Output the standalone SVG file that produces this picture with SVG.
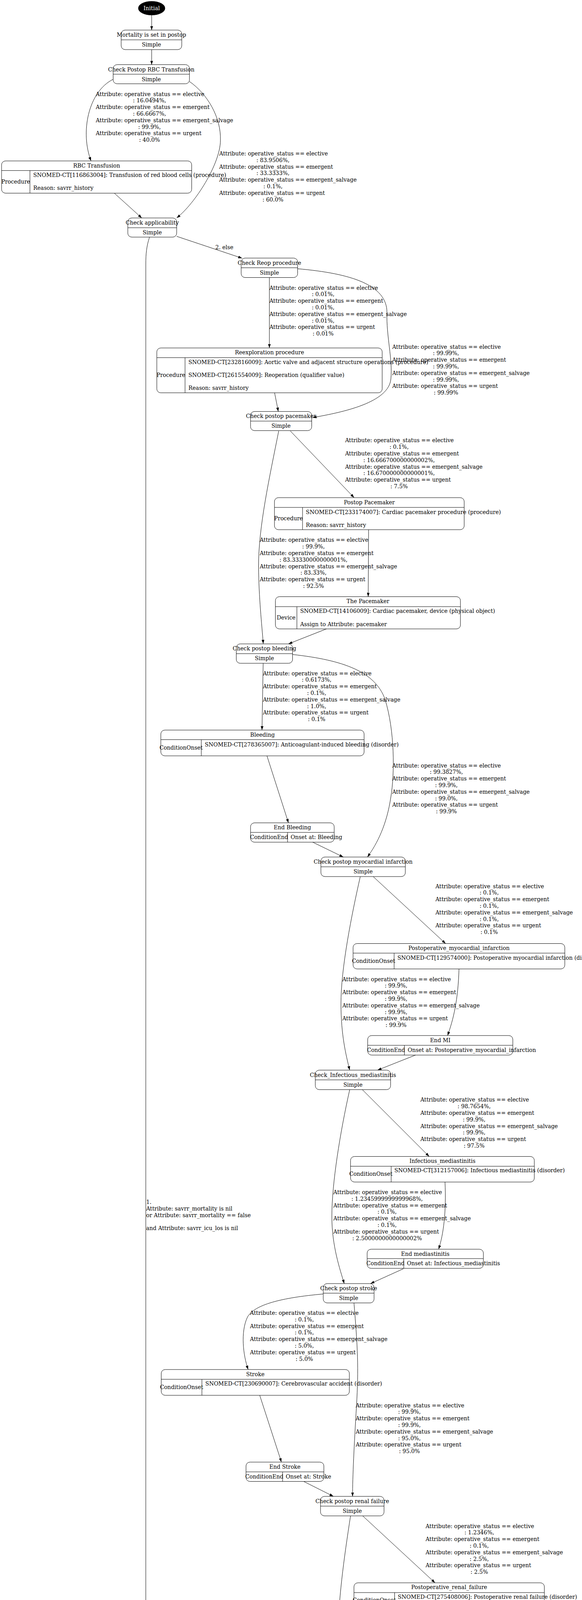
<svg xmlns="http://www.w3.org/2000/svg" width="1489" height="5507" viewBox="0 0 1489 5507">
<style>
text{font-family:"DejaVu Serif","Liberation Serif",serif;font-size:14px;fill:#000}
.c{text-anchor:middle}
.w{fill:#fff}
.b{fill:none;stroke:#000;stroke-width:1}
.e{fill:none;stroke:#000;stroke-width:1;marker-end:url(#ah)}
</style>
<defs>
<marker id="ah" viewBox="0 0 10 7" refX="10" refY="3.5" markerWidth="10" markerHeight="7" orient="auto" markerUnits="userSpaceOnUse"><path d="M0,0 L10,3.5 L0,7 z" fill="#000"/></marker>
</defs>
<rect x="0" y="0" width="1489" height="5507" fill="#fff"/>

<g id="edges">
<path class="e" d="M388,39 L388,77"/>
<path class="e" d="M388,127 L388,165.5"/>
<path class="e" d="M289.5,203 C225,235 205,340 233,412"/>
<path class="e" d="M484.7,208.6 C530,240 566,300 564,360 C563,420 500,520 452,558"/>
<path class="e" d="M292.8,494.8 L362.7,558"/>
<path class="e" d="M452,605 L619.4,661"/>
<path class="e" d="M382.5,607 C375,630 373,650 373,676 L373,5400 C373,5440 430,5460 612.5,5480"/>
<path class="e" d="M689.2,710.5 L689.2,890.8"/>
<path class="e" d="M761.5,688 C900,700 990,730 990,800 C988,860 1005,920 1000,970 C995,1030 880,1055 799.8,1069"/>
<path class="e" d="M702.6,1006 L712,1053.4"/>
<path class="e" d="M742.9,1103.4 L906,1274"/>
<path class="e" d="M713,1103.4 C690,1220 661,1350 661.5,1450 C662,1530 670,1600 673.5,1648"/>
<path class="e" d="M943,1356 L942,1527.5"/>
<path class="e" d="M835,1610 L738,1648.4"/>
<path class="e" d="M673.3,1698 L670.3,1869"/>
<path class="e" d="M748.5,1675.5 C880,1690 960,1720 985,1790 C1010,1870 1010,1980 1000,2040 C990,2110 965,2160 940,2194"/>
<path class="e" d="M683,1935 L738,2106.5"/>
<path class="e" d="M800,2156 L878.3,2194"/>
<path class="e" d="M955,2244.3 L1140,2415.5"/>
<path class="e" d="M921.7,2244.3 C900,2340 872,2480 872.3,2570 C872.5,2650 885,2700 894.6,2739.5"/>
<path class="e" d="M1174.3,2480.5 C1172,2560 1160,2610 1145,2651"/>
<path class="e" d="M1063,2701 L966,2739.5"/>
<path class="e" d="M927.5,2790 L1098,2960.6"/>
<path class="e" d="M894.6,2790 C870,2900 849,3030 849,3114 C849,3190 870,3250 880.7,3286"/>
<path class="e" d="M1138.5,3026 C1142,3100 1135,3160 1122,3198"/>
<path class="e" d="M1032,3248 L948,3286"/>
<path class="e" d="M827,3312.6 C720,3322 650,3340 633,3372 C615,3410 622,3470 635,3506"/>
<path class="e" d="M905.6,3335.5 C915,3450 918,3500 912,3600 C906,3700 902,3780 902,3830.7"/>
<path class="e" d="M664.5,3572 L720,3743"/>
<path class="e" d="M777,3792.5 L853,3830.7"/>
<path class="e" d="M928,3880.7 L1113,4052"/>
<path class="e" d="M896.8,3880.7 C880,3990 864.5,4100 864.5,4200 C864.5,4290 867,4340 869.7,4376"/>
<path class="e" d="M1154.6,4117 C1158,4190 1150,4250 1135,4288.8"/>
<path class="e" d="M1039.6,4338.3 L939,4376"/>
<path class="e" d="M869.7,4425.5 L863,4597.6"/>
<path class="e" d="M984.7,4404.6 C1080,4415 1130,4430 1160,4470 C1205,4530 1222,4620 1212,4688 C1200,4770 1110,4870 1039.6,4921.7"/>
<path class="e" d="M870,4663 L910,4834.5"/>
<path class="e" d="M923,4884 L929.7,4921.7"/>
<path class="e" d="M820,4950.8 C720,4960 670,4975 655,5010 C640,5050 640,5100 644,5143"/>
<path class="e" d="M940.7,4971 C945,5040 950,5100 945,5170 C940,5260 920,5350 867,5399 C820,5445 750,5470 704,5480"/>
<path class="e" d="M658.2,5208.7 L658.2,5380"/>
<path class="e" d="M658.2,5429.4 L658.2,5466.5"/>
</g>

<g id="edge-labels">
<g id="lbl-rbc-left">
<text x="245" y="245.5">Attribute: operative_status == elective</text><text class="c" x="382.5" y="262.3">: 16.0494%,</text>
<text x="245" y="279.1">Attribute: operative_status == emergent</text><text class="c" x="382.5" y="295.9">: 66.6667%,</text>
<text x="245" y="312.7">Attribute: operative_status == emergent_salvage</text><text class="c" x="382.5" y="329.5">: 99.9%,</text>
<text x="245" y="346.3">Attribute: operative_status == urgent</text><text class="c" x="382.5" y="363.1">: 40.0%</text>
</g>
<g id="lbl-rbc-right">
<text x="560.8" y="398">Attribute: operative_status == elective</text><text class="c" x="698.3" y="414.8">: 83.9506%,</text>
<text x="560.8" y="431.6">Attribute: operative_status == emergent</text><text class="c" x="698.3" y="448.4">: 33.3333%,</text>
<text x="560.8" y="465.2">Attribute: operative_status == emergent_salvage</text><text class="c" x="698.3" y="482">: 0.1%,</text>
<text x="560.8" y="498.8">Attribute: operative_status == urgent</text><text class="c" x="698.3" y="515.6">: 60.0%</text>
</g>
<text id="lbl-else" x="551" y="638">2. else</text>
<g id="lbl-reop-left">
<text x="689.2" y="741.5">Attribute: operative_status == elective</text><text class="c" x="826.7" y="758.3">: 0.01%,</text>
<text x="689.2" y="775.1">Attribute: operative_status == emergent</text><text class="c" x="826.7" y="791.9">: 0.01%,</text>
<text x="689.2" y="808.7">Attribute: operative_status == emergent_salvage</text><text class="c" x="826.7" y="825.5">: 0.01%,</text>
<text x="689.2" y="842.3">Attribute: operative_status == urgent</text><text class="c" x="826.7" y="859.1">: 0.01%</text>
</g>
<g id="lbl-reop-right">
<text x="1003.5" y="892.5">Attribute: operative_status == elective</text><text class="c" x="1141" y="909.3">: 99.99%,</text>
<text x="1003.5" y="926.1">Attribute: operative_status == emergent</text><text class="c" x="1141" y="942.9">: 99.99%,</text>
<text x="1003.5" y="959.7">Attribute: operative_status == emergent_salvage</text><text class="c" x="1141" y="976.5">: 99.99%,</text>
<text x="1003.5" y="993.3">Attribute: operative_status == urgent</text><text class="c" x="1141" y="1010.1">: 99.99%</text>
</g>
<g id="lbl-pace-right">
<text x="883" y="1132.3">Attribute: operative_status == elective</text><text class="c" x="1021" y="1149.1">: 0.1%,</text>
<text x="883" y="1165.9">Attribute: operative_status == emergent</text><text class="c" x="1021" y="1182.7">: 16.666700000000002%,</text>
<text x="883" y="1199.5">Attribute: operative_status == emergent_salvage</text><text class="c" x="1021" y="1216.3">: 16.670000000000001%,</text>
<text x="883" y="1233.1">Attribute: operative_status == urgent</text><text class="c" x="1021" y="1249.9">: 7.5%</text>
</g>
<g id="lbl-pace-left">
<text x="664.4" y="1387.3">Attribute: operative_status == elective</text><text class="c" x="802" y="1404.1">: 99.9%,</text>
<text x="664.4" y="1420.9">Attribute: operative_status == emergent</text><text class="c" x="802" y="1437.7">: 83.33330000000001%,</text>
<text x="664.4" y="1454.5">Attribute: operative_status == emergent_salvage</text><text class="c" x="802" y="1471.3">: 83.33%,</text>
<text x="664.4" y="1488.1">Attribute: operative_status == urgent</text><text class="c" x="802" y="1504.9">: 92.5%</text>
</g>
<g id="lbl-bleed-left">
<text x="672.7" y="1728.5">Attribute: operative_status == elective</text><text class="c" x="810" y="1745.3">: 0.6173%,</text>
<text x="672.7" y="1762.1">Attribute: operative_status == emergent</text><text class="c" x="810" y="1778.9">: 0.1%,</text>
<text x="672.7" y="1795.7">Attribute: operative_status == emergent_salvage</text><text class="c" x="810" y="1812.5">: 1.0%,</text>
<text x="672.7" y="1829.3">Attribute: operative_status == urgent</text><text class="c" x="810" y="1846.1">: 0.1%</text>
</g>
<g id="lbl-bleed-right">
<text x="1003.5" y="1964.5">Attribute: operative_status == elective</text><text class="c" x="1142" y="1981.3">: 99.3827%,</text>
<text x="1003.5" y="1998.1">Attribute: operative_status == emergent</text><text class="c" x="1142" y="2014.9">: 99.9%,</text>
<text x="1003.5" y="2031.7">Attribute: operative_status == emergent_salvage</text><text class="c" x="1142" y="2048.5">: 99.0%,</text>
<text x="1003.5" y="2065.3">Attribute: operative_status == urgent</text><text class="c" x="1142" y="2082.1">: 99.9%</text>
</g>
<g id="lbl-mi-right">
<text x="1114" y="2273.5">Attribute: operative_status == elective</text><text class="c" x="1251.5" y="2290.3">: 0.1%,</text>
<text x="1114" y="2307.1">Attribute: operative_status == emergent</text><text class="c" x="1251.5" y="2323.9">: 0.1%,</text>
<text x="1114" y="2340.7">Attribute: operative_status == emergent_salvage</text><text class="c" x="1251.5" y="2357.5">: 0.1%,</text>
<text x="1114" y="2374.3">Attribute: operative_status == urgent</text><text class="c" x="1251.5" y="2391.1">: 0.1%</text>
</g>
<g id="lbl-mi-left">
<text x="875.7" y="2511.5">Attribute: operative_status == elective</text><text class="c" x="1013.2" y="2528.3">: 99.9%,</text>
<text x="875.7" y="2545.1">Attribute: operative_status == emergent</text><text class="c" x="1013.2" y="2561.9">: 99.9%,</text>
<text x="875.7" y="2578.7">Attribute: operative_status == emergent_salvage</text><text class="c" x="1013.2" y="2595.5">: 99.9%,</text>
<text x="875.7" y="2612.3">Attribute: operative_status == urgent</text><text class="c" x="1013.2" y="2629.1">: 99.9%</text>
</g>
<g id="lbl-inf-right">
<text x="1075.5" y="2820.3">Attribute: operative_status == elective</text><text class="c" x="1213" y="2837.1">: 98.7654%,</text>
<text x="1075.5" y="2853.9">Attribute: operative_status == emergent</text><text class="c" x="1213" y="2870.7">: 99.9%,</text>
<text x="1075.5" y="2887.5">Attribute: operative_status == emergent_salvage</text><text class="c" x="1213" y="2904.3">: 99.9%,</text>
<text x="1075.5" y="2921.1">Attribute: operative_status == urgent</text><text class="c" x="1213" y="2937.9">: 97.5%</text>
</g>
<g id="lbl-inf-left">
<text x="852.8" y="3057">Attribute: operative_status == elective</text><text class="c" x="990.3" y="3073.8">: 1.2345999999999968%,</text>
<text x="852.8" y="3090.6">Attribute: operative_status == emergent</text><text class="c" x="990.3" y="3107.4">: 0.1%,</text>
<text x="852.8" y="3124.2">Attribute: operative_status == emergent_salvage</text><text class="c" x="990.3" y="3141">: 0.1%,</text>
<text x="852.8" y="3157.8">Attribute: operative_status == urgent</text><text class="c" x="990.3" y="3174.6">: 2.5000000000000002%</text>
</g>
<g id="lbl-applicability">
<text x="374" y="3082">1.</text>
<text x="374" y="3098.8">Attribute: savrr_mortality is nil</text>
<text x="374" y="3115.6">or Attribute: savrr_mortality == false</text>
<text x="374" y="3149.2">and Attribute: savrr_icu_los is nil</text>
</g>
<g id="lbl-stroke-left">
<text x="639.6" y="3366">Attribute: operative_status == elective</text><text class="c" x="778.5" y="3382.8">: 0.1%,</text>
<text x="639.6" y="3399.6">Attribute: operative_status == emergent</text><text class="c" x="778.5" y="3416.4">: 0.1%,</text>
<text x="639.6" y="3433.2">Attribute: operative_status == emergent_salvage</text><text class="c" x="778.5" y="3450">: 5.0%,</text>
<text x="639.6" y="3466.8">Attribute: operative_status == urgent</text><text class="c" x="778.5" y="3483.6">: 5.0%</text>
</g>
<g id="lbl-stroke-right">
<text x="910" y="3602.5">Attribute: operative_status == elective</text><text class="c" x="1047.5" y="3619.3">: 99.9%,</text>
<text x="910" y="3636.1">Attribute: operative_status == emergent</text><text class="c" x="1047.5" y="3652.9">: 99.9%,</text>
<text x="910" y="3669.7">Attribute: operative_status == emergent_salvage</text><text class="c" x="1047.5" y="3686.5">: 95.0%,</text>
<text x="910" y="3703.3">Attribute: operative_status == urgent</text><text class="c" x="1047.5" y="3720.1">: 95.0%</text>
</g>
<g id="lbl-renal-right">
<text x="1088.7" y="3911.5">Attribute: operative_status == elective</text><text class="c" x="1226.2" y="3928.3">: 1.2346%,</text>
<text x="1088.7" y="3945.1">Attribute: operative_status == emergent</text><text class="c" x="1226.2" y="3961.9">: 0.1%,</text>
<text x="1088.7" y="3978.7">Attribute: operative_status == emergent_salvage</text><text class="c" x="1226.2" y="3995.5">: 2.5%,</text>
<text x="1088.7" y="4012.3">Attribute: operative_status == urgent</text><text class="c" x="1226.2" y="4029.1">: 2.5%</text>
</g>
<g id="lbl-renal-left">
<text x="866" y="4148.5">Attribute: operative_status == elective</text><text class="c" x="1003.5" y="4165.3">: 98.7654%,</text>
<text x="866" y="4182.1">Attribute: operative_status == emergent</text><text class="c" x="1003.5" y="4198.9">: 99.9%,</text>
<text x="866" y="4215.7">Attribute: operative_status == emergent_salvage</text><text class="c" x="1003.5" y="4232.5">: 97.50000000000001%,</text>
<text x="866" y="4249.3">Attribute: operative_status == urgent</text><text class="c" x="1003.5" y="4266.1">: 97.50000000000001%</text>
</g>
<g id="lbl-ardial-left">
<text x="869" y="4456.5">Attribute: operative_status == elective</text><text class="c" x="1006.5" y="4473.3">: 1.2346%,</text>
<text x="869" y="4490.1">Attribute: operative_status == emergent</text><text class="c" x="1006.5" y="4506.9">: 0.1%,</text>
<text x="869" y="4523.7">Attribute: operative_status == emergent_salvage</text><text class="c" x="1006.5" y="4540.5">: 2.5%,</text>
<text x="869" y="4557.3">Attribute: operative_status == urgent</text><text class="c" x="1006.5" y="4574.1">: 2.5%</text>
</g>
<g id="lbl-ardial-right">
<text x="1211.8" y="4693.5">Attribute: operative_status == elective</text><text class="c" x="1349.3" y="4710.3">: 98.7654%,</text>
<text x="1211.8" y="4727.1">Attribute: operative_status == emergent</text><text class="c" x="1349.3" y="4743.9">: 99.9%,</text>
<text x="1211.8" y="4760.7">Attribute: operative_status == emergent_salvage</text><text class="c" x="1349.3" y="4777.5">: 97.5%,</text>
<text x="1211.8" y="4794.3">Attribute: operative_status == urgent</text><text class="c" x="1349.3" y="4811.1">: 97.5%</text>
</g>
<g id="lbl-resp-left">
<text x="657" y="5002.5">Attribute: operative_status == elective</text><text class="c" x="794.5" y="5019.3">: 4.9383%,</text>
<text x="657" y="5036.1">Attribute: operative_status == emergent</text><text class="c" x="794.5" y="5052.9">: 0.1%,</text>
<text x="657" y="5069.7">Attribute: operative_status == emergent_salvage</text><text class="c" x="794.5" y="5086.5">: 17.5%,</text>
<text x="657" y="5103.3">Attribute: operative_status == urgent</text><text class="c" x="794.5" y="5120.1">: 17.5%</text>
</g>
<g id="lbl-resp-right">
<text x="935" y="5239.5">Attribute: operative_status == elective</text><text class="c" x="1072.5" y="5256.3">: 95.0617%,</text>
<text x="935" y="5273.1">Attribute: operative_status == emergent</text><text class="c" x="1072.5" y="5289.9">: 99.9%,</text>
<text x="935" y="5306.7">Attribute: operative_status == emergent_salvage</text><text class="c" x="1072.5" y="5323.5">: 82.5%,</text>
<text x="935" y="5340.3">Attribute: operative_status == urgent</text><text class="c" x="1072.5" y="5357.1">: 82.5%</text>
</g>
</g>

<g id="node-initial"><ellipse cx="388" cy="21" rx="34.5" ry="18" fill="#000"/><text class="c w" x="388" y="26">Initial</text></g>

<g id="node-mortality"><rect class="b" x="310" y="77" width="155" height="50" rx="10"/><line class="b" x1="310" y1="102" x2="465" y2="102"/><text class="c" x="387.5" y="94">Mortality is set in postop</text><text class="c" x="387.5" y="119">Simple</text></g>
<g id="node-check-rbc"><rect class="b" x="289.5" y="165.5" width="195.2" height="49" rx="10"/><line class="b" x1="289.5" y1="190" x2="484.7" y2="190"/><text class="c" x="387" y="182.5">Check Postop RBC Transfusion</text><text class="c" x="387" y="207.5">Simple</text></g>
<g id="node-rbc"><rect class="b" x="4" y="412" width="486.4" height="82.5" rx="10"/><line class="b" x1="4" y1="436.6" x2="490.4" y2="436.6"/><line class="b" x1="76.6" y1="436.6" x2="76.6" y2="494.5"/><text class="c" x="247.2" y="428.5">RBC Transfusion</text><text class="c" x="40.3" y="470">Procedure</text><text x="85" y="452.5">SNOMED-CT[116863004]: Transfusion of red blood cells (procedure)</text><text x="85" y="486">Reason: savrr_history</text></g>
<g id="node-check-applicability"><rect class="b" x="327" y="558" width="125" height="49" rx="10"/><line class="b" x1="327" y1="583" x2="452" y2="583"/><text class="c" x="389.5" y="575">Check applicability</text><text class="c" x="389.5" y="600">Simple</text></g>
<g id="node-check-reop"><rect class="b" x="617" y="660.7" width="144.5" height="49.8" rx="10"/><line class="b" x1="617" y1="685.5" x2="761.5" y2="685.5"/><text class="c" x="689.2" y="677.7">Check Reop procedure</text><text class="c" x="689.2" y="702.7">Simple</text></g>
<g id="node-reexploration"><rect class="b" x="401.2" y="890.8" width="576.6" height="114.8" rx="10"/><line class="b" x1="401.2" y1="915.6" x2="977.8" y2="915.6"/><line class="b" x1="473.4" y1="915.6" x2="473.4" y2="1005.6"/><text class="c" x="689.5" y="907">Reexploration procedure</text><text class="c" x="437.3" y="965">Procedure</text><text x="482" y="932">SNOMED-CT[232816009]: Aortic valve and adjacent structure operations (procedure)</text><text x="482" y="965.3">SNOMED-CT[261554009]: Reoperation (qualifier value)</text><text x="482" y="998">Reason: savrr_history</text></g>
<g id="node-check-pacemaker"><rect class="b" x="641" y="1053.4" width="156.5" height="49" rx="10"/><line class="b" x1="641" y1="1078" x2="797.5" y2="1078"/><text class="c" x="719" y="1070.4">Check postop pacemaker</text><text class="c" x="719" y="1095.4">Simple</text></g>
<g id="node-postop-pacemaker"><rect class="b" x="702.2" y="1274" width="485.4" height="82" rx="10"/><line class="b" x1="702.2" y1="1299" x2="1187.6" y2="1299"/><line class="b" x1="774" y1="1299" x2="774" y2="1356"/><text class="c" x="944.9" y="1290.5">Postop Pacemaker</text><text class="c" x="738.1" y="1332">Procedure</text><text x="782.6" y="1315.5">SNOMED-CT[233174007]: Cardiac pacemaker procedure (procedure)</text><text x="782.6" y="1349">Reason: savrr_history</text></g>
<g id="node-the-pacemaker"><rect class="b" x="704.6" y="1527.5" width="473.4" height="82.5" rx="10"/><line class="b" x1="704.6" y1="1553" x2="1178" y2="1553"/><line class="b" x1="759.6" y1="1553" x2="759.6" y2="1610"/><text class="c" x="941.3" y="1544">The Pacemaker</text><text class="c" x="732.1" y="1585.5">Device</text><text x="768" y="1569">SNOMED-CT[14106009]: Cardiac pacemaker, device (physical object)</text><text x="768" y="1602.5">Assign to Attribute: pacemaker</text></g>
<g id="node-check-bleeding"><rect class="b" x="604.5" y="1648.4" width="144" height="49.6" rx="10"/><line class="b" x1="604.5" y1="1673.4" x2="748.5" y2="1673.4"/><text class="c" x="676.5" y="1665.4">Check postop bleeding</text><text class="c" x="676.5" y="1690.4">Simple</text></g>
<g id="node-bleeding"><rect class="b" x="411.5" y="1869" width="520" height="66" rx="10"/><line class="b" x1="411.5" y1="1893.5" x2="931.5" y2="1893.5"/><line class="b" x1="515" y1="1893.5" x2="515" y2="1935"/><text class="c" x="671.5" y="1885.5">Bleeding</text><text class="c" x="463.3" y="1918.5">ConditionOnset</text><text x="524" y="1910.5">SNOMED-CT[278365007]: Anticoagulant-induced bleeding (disorder)</text></g>
<g id="node-end-bleeding"><rect class="b" x="641" y="2106.5" width="214" height="49.5" rx="10"/><line class="b" x1="641" y1="2131" x2="855" y2="2131"/><line class="b" x1="735.8" y1="2131" x2="735.8" y2="2156"/><text class="c" x="748" y="2123">End Bleeding</text><text class="c" x="688.4" y="2148">ConditionEnd</text><text x="743.6" y="2148">Onset at: Bleeding</text></g>
<g id="node-check-mi"><rect class="b" x="821" y="2194" width="216" height="50" rx="10"/><line class="b" x1="821" y1="2219" x2="1037" y2="2219"/><text class="c" x="929" y="2211">Check postop myocardial infarction</text><text class="c" x="929" y="2236">Simple</text></g>
<g id="node-postop-mi"><rect class="b" x="903.3" y="2415.5" width="541.7" height="65" rx="10"/><line class="b" x1="903.3" y1="2440" x2="1445" y2="2440"/><line class="b" x1="1008.3" y1="2440" x2="1008.3" y2="2480.5"/><text class="c" x="1174.2" y="2432">Postoperative_myocardial_infarction</text><text class="c" x="955.8" y="2464.5">ConditionOnset</text><text x="1016.7" y="2456.5">SNOMED-CT[129574000]: Postoperative myocardial infarction (disorder)</text></g>
<g id="node-end-mi"><rect class="b" x="940.7" y="2651" width="371.3" height="50" rx="10"/><line class="b" x1="940.7" y1="2676" x2="1312" y2="2676"/><line class="b" x1="1034.5" y1="2676" x2="1034.5" y2="2701"/><text class="c" x="1126.4" y="2668">End MI</text><text class="c" x="987.6" y="2693">ConditionEnd</text><text x="1043" y="2693">Onset at: Postoperative_myocardial_infarction</text></g>
<g id="node-check-infectious"><rect class="b" x="806.7" y="2739.5" width="192.6" height="50" rx="10"/><line class="b" x1="806.7" y1="2764.5" x2="999.3" y2="2764.5"/><text class="c" x="903" y="2756.5">Check_Infectious_mediastinitis</text><text class="c" x="903" y="2781.5">Simple</text></g>
<g id="node-infectious"><rect class="b" x="896.8" y="2960.6" width="470.2" height="65.4" rx="10"/><line class="b" x1="896.8" y1="2985.6" x2="1367" y2="2985.6"/><line class="b" x1="1000.8" y1="2985.6" x2="1000.8" y2="3026"/><text class="c" x="1131.9" y="2977">Infectious_mediastinitis</text><text class="c" x="948.8" y="3010">ConditionOnset</text><text x="1009" y="3001">SNOMED-CT[312157006]: Infectious mediastinitis (disorder)</text></g>
<g id="node-end-mediastinitis"><rect class="b" x="939.3" y="3198" width="297.4" height="49" rx="10"/><line class="b" x1="939.3" y1="3222" x2="1236.7" y2="3222"/><line class="b" x1="1033" y1="3222" x2="1033" y2="3247"/><text class="c" x="1088" y="3214.5">End mediastinitis</text><text class="c" x="986.2" y="3239">ConditionEnd</text><text x="1041" y="3239">Onset at: Infectious_mediastinitis</text></g>
<g id="node-check-stroke"><rect class="b" x="827" y="3286" width="130" height="49.5" rx="10"/><line class="b" x1="827" y1="3310.5" x2="957" y2="3310.5"/><text class="c" x="892" y="3303">Check postop stroke</text><text class="c" x="892" y="3328">Simple</text></g>
<g id="node-stroke"><rect class="b" x="412.5" y="3506" width="481.3" height="66" rx="10"/><line class="b" x1="412.5" y1="3531" x2="893.8" y2="3531"/><line class="b" x1="516.6" y1="3531" x2="516.6" y2="3572"/><text class="c" x="653.2" y="3522.5">Stroke</text><text class="c" x="464.6" y="3555.5">ConditionOnset</text><text x="525.3" y="3547">SNOMED-CT[230690007]: Cerebrovascular accident (disorder)</text></g>
<g id="node-end-stroke"><rect class="b" x="629.4" y="3743" width="199.2" height="49.5" rx="10"/><line class="b" x1="629.4" y1="3768" x2="828.6" y2="3768"/><line class="b" x1="723" y1="3768" x2="723" y2="3792.5"/><text class="c" x="729" y="3759.5">End Stroke</text><text class="c" x="676.2" y="3784.5">ConditionEnd</text><text x="731" y="3784.5">Onset at: Stroke</text></g>
<g id="node-check-renal"><rect class="b" x="820" y="3830.7" width="162.5" height="50" rx="10"/><line class="b" x1="820" y1="3855.7" x2="982.5" y2="3855.7"/><text class="c" x="901.2" y="3847.7">Check postop renal failure</text><text class="c" x="901.2" y="3872.7">Simple</text></g>
<g id="node-postop-renal"><rect class="b" x="905.6" y="4052" width="487.1" height="65" rx="10"/><line class="b" x1="905.6" y1="4077" x2="1392.7" y2="4077"/><line class="b" x1="1009.6" y1="4077" x2="1009.6" y2="4117"/><text class="c" x="1149.2" y="4068">Postoperative_renal_failure</text><text class="c" x="957.6" y="4101">ConditionOnset</text><text x="1017.7" y="4093">SNOMED-CT[275408006]: Postoperative renal failure (disorder)</text></g>
<g id="node-end-renal"><rect class="b" x="946.6" y="4288.8" width="317.9" height="49.5" rx="10"/><line class="b" x1="946.6" y1="4313" x2="1264.5" y2="4313"/><line class="b" x1="1041" y1="4313" x2="1041" y2="4338.3"/><text class="c" x="1105.5" y="4305.5">End renal failure</text><text class="c" x="993.8" y="4330">ConditionEnd</text><text x="1049" y="4330">Onset at: Postoperative_renal_failure</text></g>
<g id="node-check-ardial"><rect class="b" x="757.6" y="4376" width="227.1" height="49.5" rx="10"/><line class="b" x1="757.6" y1="4401" x2="984.7" y2="4401"/><text class="c" x="871.2" y="4393">Check_Acute renal failure on dialysis</text><text class="c" x="871.2" y="4418">Simple</text></g>
<g id="node-ardial"><rect class="b" x="586.9" y="4597.6" width="550.1" height="65.4" rx="10"/><line class="b" x1="586.9" y1="4622.6" x2="1137" y2="4622.6"/><line class="b" x1="691.6" y1="4622.6" x2="691.6" y2="4663"/><text class="c" x="862" y="4614">Acute renal failure on dialysis</text><text class="c" x="639.3" y="4647">ConditionOnset</text><text x="699.7" y="4638.5">SNOMED-CT[129721000119106]: Acute renal failure on dialysis (disorder)</text></g>
<g id="node-end-ardial"><rect class="b" x="751.7" y="4834.5" width="331.3" height="49.5" rx="10"/><line class="b" x1="751.7" y1="4859" x2="1083" y2="4859"/><line class="b" x1="845.5" y1="4859" x2="845.5" y2="4884"/><text class="c" x="917.4" y="4851">End renal failure with dialysis</text><text class="c" x="798.6" y="4876">ConditionEnd</text><text x="852.8" y="4876">Onset at: Acute renal failure on dialysis</text></g>
<g id="node-check-resp"><rect class="b" x="820" y="4921.7" width="232" height="49.3" rx="10"/><line class="b" x1="820" y1="4946.7" x2="1052" y2="4946.7"/><text class="c" x="936" y="4938.7">Check_Acute respiratory insufficiency</text><text class="c" x="936" y="4963.7">Simple</text></g>
<g id="node-resp"><rect class="b" x="401.5" y="5143" width="513.5" height="65.7" rx="10"/><line class="b" x1="401.5" y1="5168" x2="915" y2="5168"/><line class="b" x1="505.6" y1="5168" x2="505.6" y2="5208.7"/><text class="c" x="658.2" y="5159.5">Acute respiratory insufficiency</text><text class="c" x="453.5" y="5192">ConditionOnset</text><text x="513.6" y="5184">SNOMED-CT[111282000]: Acute respiratory insufficiency (disorder)</text></g>
<g id="node-end-resp"><rect class="b" x="489.5" y="5380" width="337.5" height="49.4" rx="10"/><line class="b" x1="489.5" y1="5404.5" x2="827" y2="5404.5"/><line class="b" x1="584" y1="5404.5" x2="584" y2="5429.4"/><text class="c" x="658.2" y="5396.5">End insufficiency</text><text class="c" x="536.8" y="5421.5">ConditionEnd</text><text x="591.3" y="5421">Onset at: Acute respiratory insufficiency</text></g>
<g id="node-terminal"><ellipse cx="658.2" cy="5485" rx="45.5" ry="18.5" fill="#000"/><text class="c w" x="658.2" y="5489.5">Terminal</text></g>
</svg>
